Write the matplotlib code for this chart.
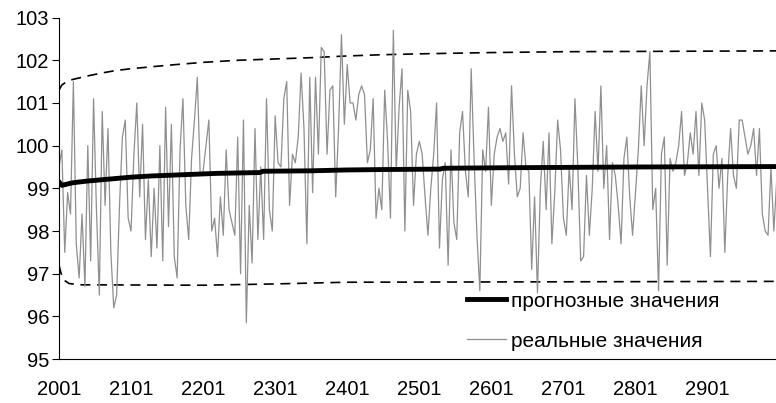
import numpy as np
import matplotlib
matplotlib.use("Agg")
import matplotlib.pyplot as plt

plt.rcParams['font.family'] = ['Liberation Sans', 'DejaVu Sans']

# real values, one reading every 4 periods starting at 2001 (one row per 100 periods)
real_start = 2001
real_step = 4
real_vals = [
    99.5, 99.9, 97.5, 98.9, 98.4, 101.5, 97.7, 96.9, 98.4, 96.7, 100.0, 97.3, 101.1,
    98.5, 96.5, 100.8, 98.6, 100.4, 97.5, 96.2, 96.5, 98.6, 100.2, 100.6, 98.3,
    98.0, 99.8, 101.0, 98.8, 100.5, 97.8, 99.2, 97.4, 99.0, 97.6, 100.0, 97.3, 100.9,
    98.1, 100.5, 97.4, 96.9, 99.9, 101.1, 98.6, 97.8, 99.7, 100.6, 101.6, 99.3,
    99.4, 100.0, 100.6, 98.0, 98.3, 97.4, 98.8, 97.9, 99.9, 98.5, 98.2, 97.9, 100.2,
    97.0, 100.6, 95.85, 98.6, 97.25, 100.4, 97.8, 99.5, 97.8, 101.1, 98.5, 98.0,
    100.7, 99.6, 99.5, 101.1, 101.5, 98.6, 99.8, 99.6, 100.2, 101.7, 100.4, 97.7, 101.6,
    98.9, 101.6, 99.8, 102.3, 102.2, 99.8, 101.3, 101.4, 98.8, 100.4, 102.6, 100.5,
    101.9, 101.0, 101.0, 100.6, 101.2, 101.4, 101.2, 99.6, 99.9, 101.1, 98.3, 99.0, 98.5,
    101.3, 100.1, 98.3, 102.7, 99.4, 100.9, 101.8, 98.0, 101.3, 100.8, 98.6, 99.8,
    100.1, 99.8, 98.8, 97.9, 99.0, 99.8, 101.0, 97.6, 99.2, 99.6, 97.2, 99.9, 98.2,
    97.8, 100.3, 100.8, 99.4, 98.8, 101.8, 99.7, 97.9, 96.6, 99.9, 99.4, 100.9,
    98.6, 99.8, 100.2, 100.4, 100.1, 100.3, 99.1, 101.4, 99.8, 98.8, 99.0, 100.3, 99.5,
    99.4, 97.1, 98.8, 96.55, 99.0, 100.1, 98.5, 100.3, 97.7, 98.9, 100.6, 99.9,
    98.3, 97.9, 99.5, 98.5, 101.1, 99.5, 97.3, 97.4, 99.3, 97.9, 99.0, 100.8, 99.4,
    101.4, 99.0, 100.0, 97.8, 99.6, 99.3, 98.6, 97.7, 99.7, 100.2, 98.8, 97.9,
    98.9, 99.9, 101.4, 100.0, 101.4, 102.2, 98.5, 99.0, 96.6, 99.8, 100.2, 97.2, 99.7,
    99.4, 99.6, 100.0, 100.8, 99.3, 99.6, 100.3, 99.8, 100.8, 99.3, 101.0, 100.6,
    99.0, 97.4, 99.8, 100.0, 99.0, 99.7, 97.5, 99.3, 100.4, 99.3, 99.0, 100.6, 100.6,
    100.2, 99.8, 100.0, 100.4, 99.3, 100.4, 98.4, 98.0, 97.9, 99.5, 98.0, 99.2,
]
real_x = real_start + real_step * np.arange(len(real_vals))

# forecast
fc_x = [2001, 2005, 2020, 2040, 2060, 2080, 2100, 2130, 2160, 2190, 2220, 2280, 2284,
        2350, 2400, 2450, 2530, 2534, 2600, 2700, 2800, 3000]
fc_y = [99.15, 99.07, 99.13, 99.17, 99.2, 99.23, 99.26, 99.29, 99.31, 99.33, 99.35, 99.37, 99.4,
        99.41, 99.43, 99.44, 99.45, 99.47, 99.48, 99.49, 99.5, 99.51]

# confidence bounds
up_x = [2001, 2005, 2012, 2020, 2040, 2060, 2080, 2100, 2150, 2200, 2250, 2300, 2350,
        2400, 2450, 2500, 2600, 2700, 3000]
up_y = [101.3, 101.42, 101.5, 101.55, 101.63, 101.7, 101.76, 101.8, 101.88, 101.95, 102.0,
        102.03, 102.06, 102.1, 102.13, 102.15, 102.18, 102.2, 102.22]
lo_x = [2001, 2004, 2008, 2015, 2030, 2200, 2300, 2400, 3000]
lo_y = [97.2, 97.0, 96.85, 96.77, 96.74, 96.73, 96.76, 96.8, 96.82]

fig = plt.figure(figsize=(7.76, 4.03), dpi=100)
ax = fig.add_axes([0.076, 0.109, 0.924, 0.8474])

ax.plot(up_x, up_y, color='black', lw=1.2, dashes=(6, 4))
ax.plot(lo_x, lo_y, color='black', lw=1.2, dashes=(6, 4))
ax.plot(real_x, real_vals, color='#8f8f8f', lw=0.9, label='реальные значения', zorder=2)
ax.plot(fc_x, fc_y, color='black', lw=3.5, label='прогнозные значения', zorder=3)

ax.set_xlim(2001, 2996)
ax.set_ylim(95, 103)
ax.set_yticks(np.arange(95, 104, 1))
ax.set_xticks(np.arange(2001, 3000, 100))

for s in ['top', 'right']:
    ax.spines[s].set_visible(False)
ax.tick_params(axis='y', direction='out', length=5, width=0.8, pad=2, labelsize=14.5)
ax.tick_params(axis='x', length=0, pad=15, labelsize=14.5)

h, l = ax.get_legend_handles_labels()
ax.legend(h[::-1], l[::-1], loc='lower left', bbox_to_anchor=(0.543, -0.03), frameon=False,
          fontsize=15, handlelength=1.85, handletextpad=0.25, labelspacing=1.0)

fig.savefig('out.png', dpi=100)
